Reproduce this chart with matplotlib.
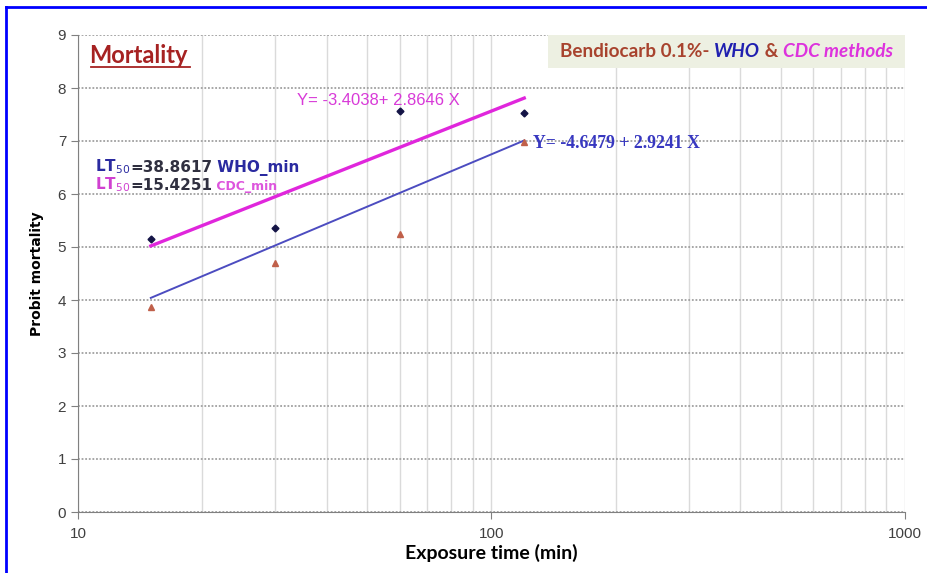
import matplotlib.pyplot as plt
from matplotlib.lines import Line2D
from matplotlib.patches import Rectangle
from matplotlib.offsetbox import TextArea, HPacker, AnchoredOffsetbox
from matplotlib.ticker import FixedLocator, NullFormatter

plt.rcParams['font.family'] = ['Liberation Sans', 'DejaVu Sans']

# exposure times (min) and probit mortality
times = [15, 30, 60, 120]
who_probit = [5.16, 5.35, 7.57, 7.52]
cdc_probit = [3.87, 4.70, 5.25, 6.99]

# regression lines as drawn
fit_x = [15, 120]
fit_magenta = [5.02, 7.81]
fit_blue = [4.04, 7.01]

y_ticks = list(range(0, 10))
x_ticks = [10, 100, 1000]

fig = plt.figure(figsize=(9.28, 5.73), dpi=100)
ax = fig.add_axes([78 / 928, 61 / 573, 827 / 928, 477 / 573])

ax.set_xscale('log')
ax.set_xlim(10, 1000)
ax.set_ylim(0, 9)

# grid
minor = [m * 10 ** e for e in (1, 2) for m in range(2, 10)]
ax.xaxis.set_minor_locator(FixedLocator(minor))
ax.xaxis.set_minor_formatter(NullFormatter())
ax.set_xticks(x_ticks)
ax.set_xticklabels([str(t) for t in x_ticks])
ax.set_yticks(y_ticks)
ax.grid(True, which='both', axis='x', color='#dadada', lw=1.0, zorder=0)
ax.grid(True, which='major', axis='y', color='#a0a0a0', lw=1.3,
        linestyle=(0, (1, 1)), zorder=0)
ax.tick_params(axis='x', which='minor', length=0)
ax.tick_params(axis='both', which='major', length=5, color='#808080',
               labelcolor='#404040', labelsize=11)
ax.tick_params(axis='x', pad=6)
for s in ('top', 'right'):
    ax.spines[s].set_visible(False)
for s in ('left', 'bottom'):
    ax.spines[s].set_color('#808080')

# data
ax.plot(fit_x, fit_magenta, color='#e026dc', lw=2.4, zorder=3)
ax.plot(fit_x, fit_blue, color='#4c4cc0', lw=1.4, zorder=3)
ax.plot(times, who_probit, 'D', color='#141446', ms=3.5, zorder=4)
ax.plot(times, cdc_probit, '^', color='#c0604a', ms=4.5, zorder=4)

ax.set_xlabel('Exposure time (min)', family='Lato', fontweight='bold',
              fontsize=14, labelpad=2)
ax.set_ylabel('Probit mortality', family='DejaVu Sans', fontweight='bold',
              fontsize=10, labelpad=10)

# title in corner
ax.text(0.014, 0.958, 'Mortality', transform=ax.transAxes, family='Lato',
        fontweight='bold', fontsize=17, color='#a62222', va='center', ha='left')
ax.add_line(Line2D([0.016, 0.136], [0.932, 0.932], transform=ax.transAxes,
                   color='#a62222', lw=1.3))

# method box
ax.add_patch(Rectangle((0.568, 0.931), 0.432, 0.069, transform=ax.transAxes,
                       facecolor='#edf0e2', edgecolor='none', zorder=2))
base = dict(family='Lato', fontweight='bold', fontsize=13.6)
parts = [('Bendiocarb 0.1%- ', '#a8432e', 'normal'),
         ('WHO', '#2020b0', 'italic'),
         (' & ', '#a8432e', 'normal'),
         ('CDC methods', '#dd33dd', 'italic')]
boxes = [TextArea(t, textprops=dict(base, color=c, fontstyle=st)) for t, c, st in parts]
pack = HPacker(children=boxes, align='baseline', pad=0, sep=0)
ax.add_artist(AnchoredOffsetbox(loc='center', child=pack, frameon=False,
                                bbox_to_anchor=(0.784, 0.965),
                                bbox_transform=ax.transAxes, pad=0, borderpad=0))

# equations
ax.text(33.9, 7.77, 'Y= -3.4038+ 2.8646 X', color='#d83ad8', fontsize=12,
        va='center', ha='left', zorder=5)
ax.text(126, 6.96, 'Y= -4.6479 + 2.9241 X', color='#3838c0', family='Liberation Serif',
        fontsize=12.8, fontweight='bold', va='center', ha='left', zorder=5)


def lt_line(y, lt_col, val, tag, tag_col, tag_size):
    font = dict(family='DejaVu Sans', fontweight='bold')
    kids = [TextArea('LT$_{50}$', textprops=dict(font, color=lt_col, fontsize=11)),
            TextArea(val, textprops=dict(font, color='#303040', fontsize=11)),
            TextArea(tag, textprops=dict(font, color=tag_col, fontsize=tag_size))]
    p = HPacker(children=kids, align='baseline', pad=0, sep=0)
    ax.add_artist(AnchoredOffsetbox(loc='center left', child=p, frameon=False,
                                    bbox_to_anchor=(11.0, y),
                                    bbox_transform=ax.transData, pad=0, borderpad=0))


lt_line(6.51, '#2a2aa0', '=38.8617', ' WHO_min', '#2a2aa0', 11)
lt_line(6.17, '#d040d0', '=15.4251', ' CDC_min', '#dd55dd', 9)

# blue frame
fig.add_artist(Line2D([0.0065, 0.0065], [0, 0.988], transform=fig.transFigure,
                      color='#0000ff', lw=2))
fig.add_artist(Line2D([0.0065, 1], [0.988, 0.988], transform=fig.transFigure,
                      color='#0000ff', lw=2))

fig.savefig('out.png', dpi=100)
